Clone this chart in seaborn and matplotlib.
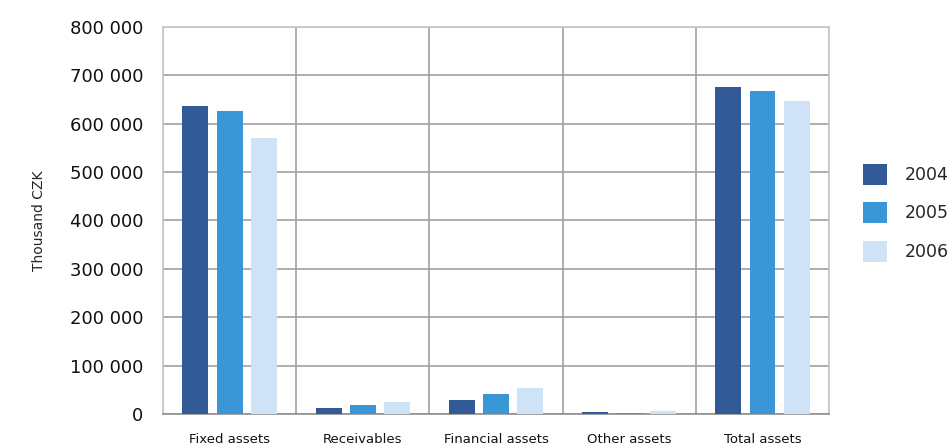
import matplotlib.pyplot as plt
import pandas as pd
import seaborn as sns
from matplotlib.ticker import FuncFormatter, MultipleLocator

categories = ["Fixed assets", "Receivables", "Financial assets", "Other assets", "Total assets"]
years = ["2004", "2005", "2006"]
values_2004 = [637000, 12000, 29000, 4000, 676000]
values_2005 = [627000, 19000, 41000, 2000, 668000]
values_2006 = [571000, 25000, 54000, 6000, 647000]
colors = ["#325a96", "#3a96d6", "#cfe3f7"]

df = pd.DataFrame({
    "category": categories * 3,
    "year": [y for y in years for _ in categories],
    "value": values_2004 + values_2005 + values_2006,
})

sns.set_style("white")
plt.rcParams["font.family"] = ["DejaVu Sans"]

fig = plt.figure(figsize=(9.53, 4.48), dpi=100)
ax = fig.add_axes([0.171, 0.076, 0.699, 0.864])

sns.barplot(data=df, x="category", y="value", hue="year", palette=colors,
            width=0.77, gap=0.24, saturation=1, linewidth=0, ax=ax, zorder=3)

ax.set_ylim(0, 800000)
ax.set_xlim(-0.5, 4.5)
ax.yaxis.set_major_locator(MultipleLocator(100000))
ax.yaxis.set_major_formatter(FuncFormatter(lambda v, p: f"{int(v):,}".replace(",", " ")))
ax.xaxis.set_minor_locator(MultipleLocator(1, offset=0.5))
ax.grid(axis="y", which="major", color="#a0a0a0", linewidth=1.2, zorder=0)
ax.grid(axis="x", which="minor", color="#a0a0a0", linewidth=1.2, zorder=0)
ax.grid(axis="x", which="major", visible=False)
ax.tick_params(axis="both", which="both", length=0)
ax.tick_params(axis="y", labelsize=13, pad=14, colors="#111111")
ax.tick_params(axis="x", labelsize=9.5, pad=14, colors="#111111")
ax.set_xlabel("")
ax.set_ylabel("Thousand CZK", fontsize=10, labelpad=17)

for s in ["left", "right", "top", "bottom"]:
    ax.spines[s].set_visible(True)
    ax.spines[s].set_color("#c8c8c8")
    ax.spines[s].set_linewidth(1.2)
ax.spines["bottom"].set_color("#909090")

ax.legend(loc="center left", bbox_to_anchor=(1.027, 0.52), frameon=False,
          fontsize=12.5, handlelength=1.4, handleheight=1.5, labelspacing=1.0,
          handletextpad=1.0)

fig.savefig("out.png", dpi=100)
